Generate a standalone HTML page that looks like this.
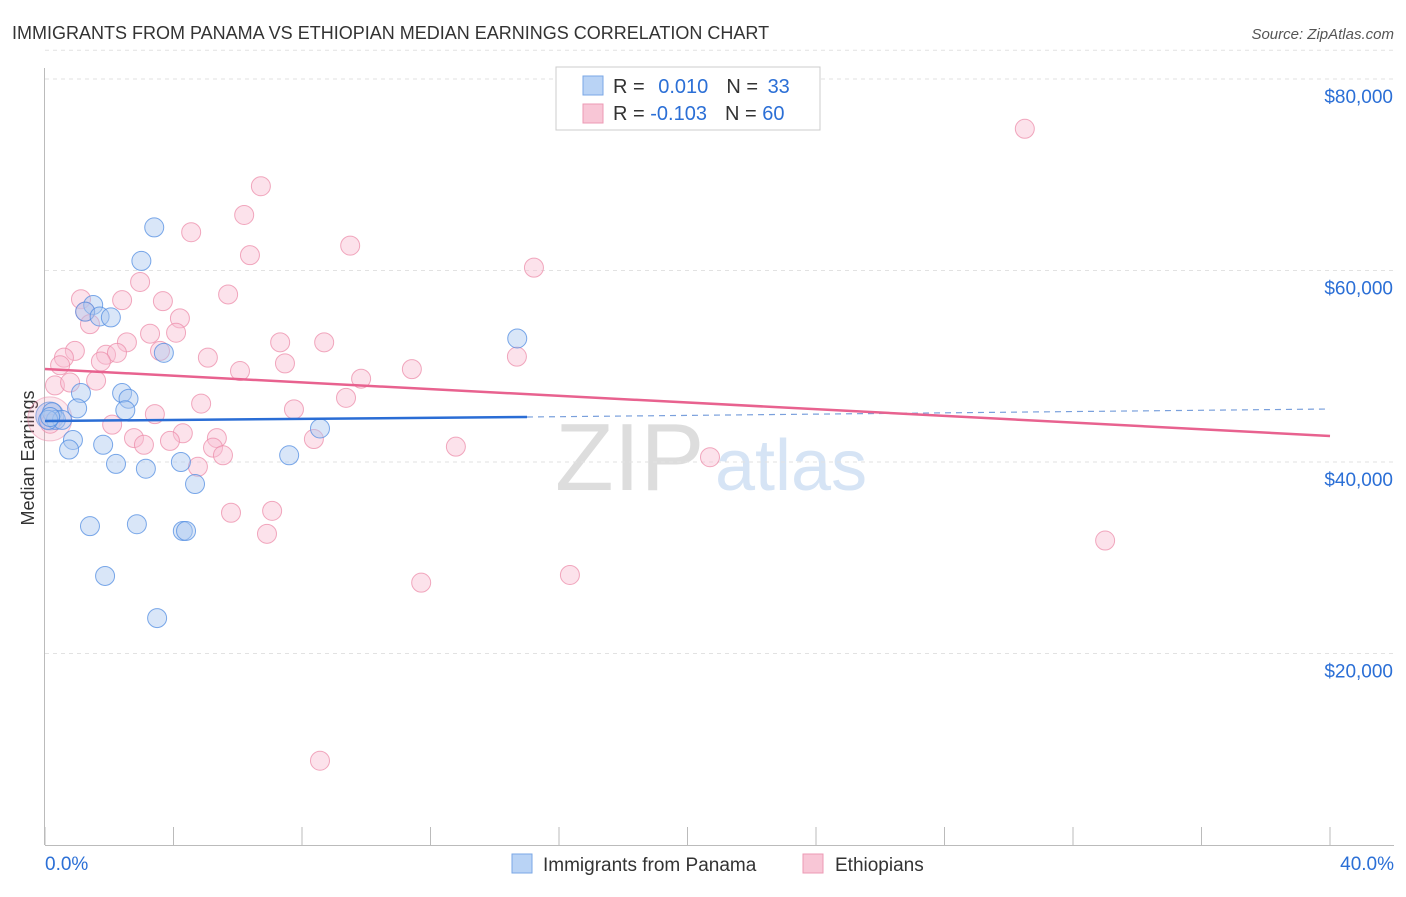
<!DOCTYPE html>
<html><head><meta charset="utf-8"><style>
body{margin:0;background:#fff;font-family:"Liberation Sans",sans-serif;}
svg text{font-family:"Liberation Sans",sans-serif;}
</style></head><body>
<svg id="c" width="1406" height="892" xmlns="http://www.w3.org/2000/svg">
<text x="12" y="39" font-size="18" fill="#333">IMMIGRANTS FROM PANAMA VS ETHIOPIAN MEDIAN EARNINGS CORRELATION CHART</text>
<text x="1394" y="39" font-size="15" fill="#555" font-style="italic" text-anchor="end">Source: ZipAtlas.com</text>
<text x="34" y="458" font-size="18" fill="#333" text-anchor="middle" transform="rotate(-90 34 458)">Median Earnings</text>
<g><text x="555" y="490" font-size="96" fill="#ddd" font-family="Liberation Serif">ZIP</text><text x="715" y="490" font-size="72" fill="#d6e4f5">atlas</text></g>
<g id="grid"></g><g id="axes"></g><g id="pts"></g><g id="lines"></g>
<g>
<rect x="556" y="67" width="264" height="63" fill="#fff" stroke="#ccc"/>
<rect x="583" y="76" width="20" height="19" fill="#b9d3f5" stroke="#7aa7e6"/>
<rect x="583" y="104" width="20" height="19" fill="#f8c6d6" stroke="#ec9ab4"/>
<text x="613" y="93" font-size="20" fill="#333">R = <tspan fill="#2b6fd6" dx="8">0.010</tspan><tspan fill="#333" dx="18">N = </tspan><tspan fill="#2b6fd6" dx="4">33</tspan></text>
<text x="613" y="120" font-size="20" fill="#333">R = <tspan fill="#2b6fd6">-0.103</tspan><tspan fill="#333" dx="18">N = </tspan><tspan fill="#2b6fd6">60</tspan></text>
</g>
<g>
<rect x="512" y="854" width="20" height="19" fill="#b9d3f5" stroke="#7aa7e6"/>
<text x="543" y="871" font-size="19" fill="#333">Immigrants from Panama</text>
<rect x="803" y="854" width="20" height="19" fill="#f8c6d6" stroke="#ec9ab4"/>
<text x="835" y="871" font-size="19" fill="#333">Ethiopians</text>
</g>
</svg>
<script>
const yTicks=[20000,40000,60000,80000];
const yTickLabels=["$20,000","$40,000","$60,000","$80,000"];
const xEnds=["0.0%","40.0%"];
const panamaX=[3.4,3.0,1.5,1.25,1.7,2.05,3.7,14.7,2.4,1.12,2.6,1.0,2.5,0.22,0.34,0.53,0.87,0.75,1.81,2.21,3.14,4.23,7.6,8.56,4.67,1.4,2.86,4.29,4.39,1.87,3.49,0.1,0.16];
const panamaY=[64500,61000,56400,55700,55200,55100,51400,52900,47200,47200,46600,45600,45400,45200,44400,44400,42300,41300,41800,39800,39300,40000,40700,43500,37700,33300,33500,32800,32800,28100,23700,44400,44700];
const ethX=[30.5,6.72,6.2,4.55,9.5,6.38,15.22,2.96,1.12,2.4,3.67,5.7,1.25,4.2,1.4,3.27,4.08,2.55,7.32,8.69,0.93,3.58,0.59,1.9,2.24,1.74,5.07,7.47,0.47,6.07,11.42,14.69,9.84,0.31,0.78,1.59,9.37,4.86,7.75,3.42,2.09,4.29,8.37,2.77,3.89,5.35,5.23,3.08,12.79,5.54,4.76,20.7,7.07,5.79,6.91,33.0,16.34,11.71,8.56,0.16];
const ethY=[74800,68800,65800,64000,62600,61600,60300,58800,57000,56900,56800,57500,55700,55000,54400,53400,53500,52500,52500,52500,51600,51600,50900,51200,51400,50500,50900,50300,50100,49500,49700,51000,48700,48000,48300,48500,46700,46100,45500,45000,43900,43000,42400,42500,42200,42500,41500,41800,41600,40700,39500,40500,34900,34700,32500,31800,28200,27400,8800,44000];
const S="http://www.w3.org/2000/svg";
const x=v=>45+v*32.125, y=v=>845-v*191.5/20000;
function mk(t,a,p){const e=document.createElementNS(S,t);for(const k in a)e.setAttribute(k,a[k]);p.appendChild(e);return e;}
const G=document.getElementById('grid'),A=document.getElementById('axes'),P=document.getElementById('pts'),L=document.getElementById('lines');
yTicks.forEach((t,i)=>{
 const g=mk('line',{x1:45,x2:1394,y1:y(t),y2:y(t),stroke:'#e2e2e2','stroke-dasharray':'4,4'},G);
 
 
 const tx=mk('text',{x:1393,y:y(t)+24,'font-size':19,fill:'#2b6fd6','text-anchor':'end'},A);
 tx.textContent=yTickLabels[i];
 
 
});
mk('line',{x1:45,x2:1394,y1:y(83000),y2:y(83000),stroke:'#e2e2e2','stroke-dasharray':'4,4'},G);
const ax=mk('line',{x1:44.5,x2:44.5,y1:68,y2:845,stroke:'#bbb'},A);


const bx=mk('line',{x1:45,x2:1394,y1:845.5,y2:845.5,stroke:'#bbb'},A);


for(let i=0;i<=10;i++){const tk=mk('line',{x1:x(i*4),x2:x(i*4),y1:827,y2:845,stroke:'#bbb'},A);
 
 }
const l0=mk('text',{x:45,y:870,'font-size':19,fill:'#2b6fd6'},A);l0.textContent=xEnds[0];


const l1=mk('text',{x:1394,y:870,'font-size':19,fill:'#2b6fd6','text-anchor':'end'},A);l1.textContent=xEnds[1];


mk('circle',{cx:x(0.15),cy:y(44500),r:22,fill:'rgba(240,140,170,0.2)',stroke:'rgba(236,140,170,0.5)'},P);
mk('circle',{cx:x(0.15),cy:y(44800),r:14,fill:'rgba(150,170,230,0.35)',stroke:'rgba(90,140,220,0.6)'},P);
ethX.forEach((v,i)=>{const c=mk('circle',{cx:x(v),cy:y(ethY[i]),r:9.5,fill:'rgba(248,190,210,0.45)',stroke:'rgba(236,140,170,0.75)'},P);
 
 });
panamaX.forEach((v,i)=>{const c=mk('circle',{cx:x(v),cy:y(panamaY[i]),r:9.5,fill:'rgba(170,200,240,0.45)',stroke:'rgba(80,140,225,0.75)'},P);
 
 });
const t1=mk('line',{x1:45,y1:421,x2:527,y2:417,stroke:'#2a6dd5','stroke-width':2.5},L);


const t2=mk('line',{x1:527,y1:417,x2:1330,y2:409,stroke:'#7aa0dc','stroke-width':1.2,'stroke-dasharray':'6,5'},L);


const t3=mk('line',{x1:45,y1:369,x2:1330,y2:436,stroke:'#e8628f','stroke-width':2.5},L);


</script>
</body></html>
